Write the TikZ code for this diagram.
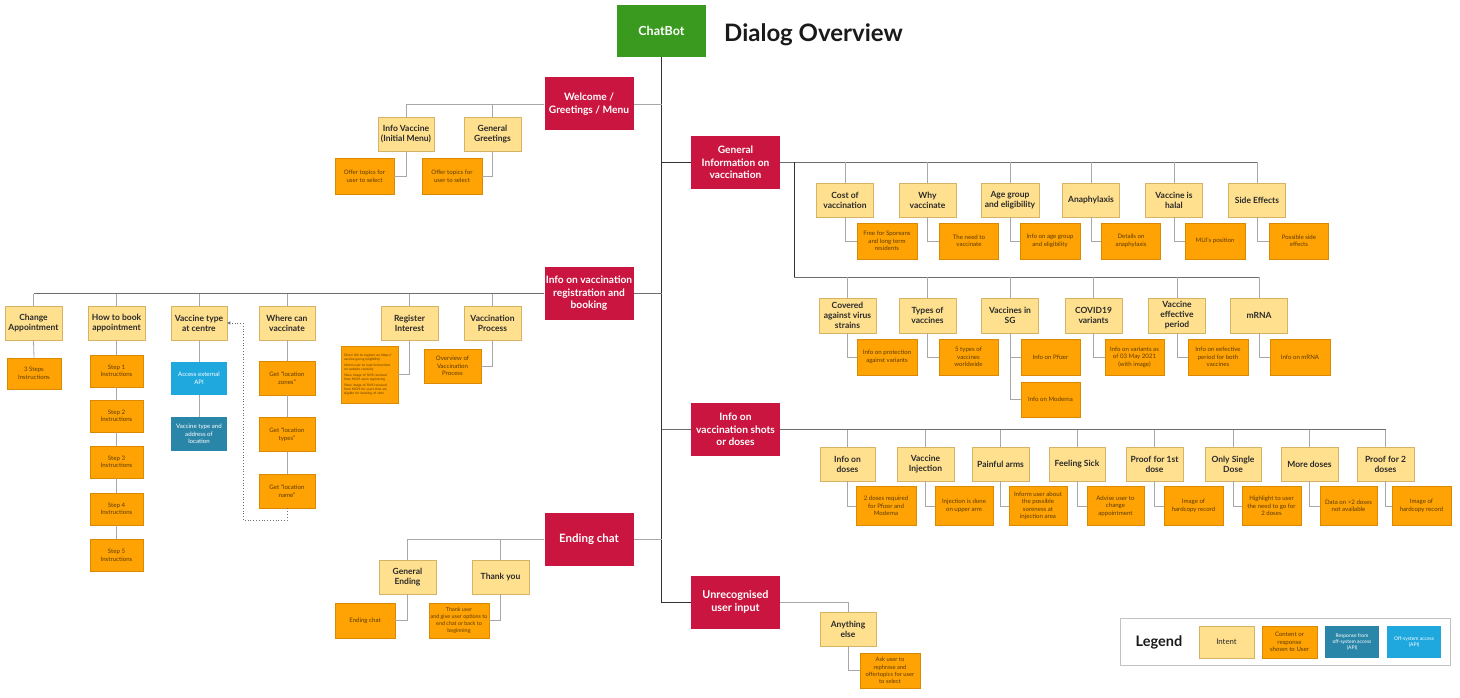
\documentclass[tikz,border=0pt]{standalone}
\usepackage{fontspec}
\setmainfont{Lato}
\usetikzlibrary{arrows.meta}
\definecolor{cbgreen}{HTML}{3A9A1F}
\definecolor{crim}{HTML}{C9153F}
\definecolor{intentf}{HTML}{FFE08F}
\definecolor{intentd}{HTML}{D6B265}
\definecolor{intenttxt}{HTML}{2A2A2A}
\definecolor{respf}{HTML}{FFA304}
\definecolor{respd}{HTML}{D98A00}
\definecolor{resptxt}{HTML}{5C3A00}
\definecolor{apif}{HTML}{1EA8DE}
\definecolor{apirf}{HTML}{2A86A8}
\definecolor{trunkc}{HTML}{333333}
\definecolor{busc}{HTML}{6E6E6E}
\definecolor{linkc}{HTML}{A8A8A8}
\definecolor{titlec}{HTML}{1A1A1A}
\tikzset{
  topic/.style={fill=crim, text=white, font=\fontsize{10.2}{12.4}\selectfont\bfseries, align=center, minimum width=89pt, minimum height=53pt, inner sep=0pt},
  intent/.style={fill=intentf, draw=intentd, line width=0.6pt, text=intenttxt, font=\fontsize{8.5}{10}\selectfont\bfseries, align=center, minimum width=57pt, minimum height=34pt, inner sep=0pt},
  resp/.style={fill=respf, draw=respd, line width=0.6pt, text=resptxt, font=\fontsize{6.1}{7.5}\selectfont, align=center, minimum width=59pt, minimum height=36pt, inner sep=0pt},
  apibox/.style={fill=apif, text=white, font=\fontsize{6.1}{7.5}\selectfont, align=center, minimum width=56pt, minimum height=33pt, inner sep=0pt},
  apiresp/.style={fill=apirf, text=white, font=\fontsize{6.1}{7.5}\selectfont, align=center, minimum width=56pt, minimum height=34pt, inner sep=0pt},
  trunk/.style={draw=trunkc, line width=1pt},
  bus/.style={draw=busc, line width=0.9pt},
  link/.style={draw=linkc, line width=0.8pt},
}
\begin{document}
\begin{tikzpicture}[x=1pt,y=-1pt]
\fill[white] (0,0) rectangle (1460,698);
\useasboundingbox (0,0) rectangle (1460,698);

% ---------- header ----------
\node[fill=cbgreen, minimum width=89pt, minimum height=52pt, inner sep=0pt, text=white, font=\fontsize{12.5}{14}\selectfont\bfseries] (chatbot) at (661.5,31) {ChatBot};
\node[anchor=base west, font=\fontsize{24}{28}\selectfont\bfseries, text=titlec, inner sep=0pt] (title) at (724,42) {Dialog Overview};

% ---------- topics ----------
\node[topic] (welcome) at (589,104) {Welcome /\\Greetings / Menu};
\node[topic] (geninfo) at (735.5,162.5) {General\\Information on\\vaccination};
\node[topic] (reg) at (589,293.5) {Info on vaccination\\registration and\\booking};
\node[topic] (shots) at (735.5,429.5) {Info on\\vaccination shots\\or doses};
\node[topic, font=\fontsize{11.5}{13}\selectfont\bfseries] (ending) at (589,539) {Ending chat};
\node[topic, font=\fontsize{10.8}{13}\selectfont\bfseries] (unrec) at (735.5,602) {Unrecognised\\user input};

% ---------- welcome ----------
\node[intent, minimum width=56pt] (ivac) at (406,134) {Info Vaccine\\(Initial Menu)};
\node[intent] (ggreet) at (492.5,134) {General\\Greetings};
\node[resp] (offer1) at (364.5,176.5) {Offer topics for\\user to select};
\node[resp, minimum width=60pt] (offer2) at (452,176.5) {Offer topics for\\user to select};

% ---------- general info row 1 ----------
\node[intent] (cost) at (845,200) {Cost of\\vaccination};
\node[intent] (why) at (927.5,200) {Why\\vaccinate};
\node[intent, minimum width=58pt] (age) at (1010,200) {Age group\\and eligibility};
\node[intent] (anaph) at (1091,200) {Anaphylaxis};
\node[intent] (halal) at (1174,200) {Vaccine is\\halal};
\node[intent] (side) at (1257,200) {Side Effects};
\node[resp, minimum width=60pt] (free) at (887,241) {Free for Sporeans\\and long term\\residents};
\node[resp] (need) at (969,241) {The need to\\vaccinate};
\node[resp, minimum width=60pt] (ageinfo) at (1050,241) {Info on age group\\and eligibility};
\node[resp] (details) at (1131,241) {Details on\\anaphylaxis};
\node[resp, minimum width=60pt] (mui) at (1215,241) {MUI's position};
\node[resp] (possible) at (1299,241) {Possible side\\effects};

% ---------- general info row 2 ----------
\node[intent, minimum height=35pt] (covered) at (847.5,315.5) {Covered\\against virus\\strains};
\node[intent, minimum height=35pt] (types) at (927.5,315.5) {Types of\\vaccines};
\node[intent, minimum height=35pt] (vsg) at (1010,315.5) {Vaccines in\\SG};
\node[intent, minimum height=35pt] (covid) at (1093.5,315.5) {COVID19\\variants};
\node[intent, minimum height=35pt] (veff) at (1177,315.5) {Vaccine\\effective\\period};
\node[intent, minimum height=35pt] (mrna) at (1259,315.5) {mRNA};
\node[resp, minimum width=60pt] (prot) at (887,357) {Info on protection\\against variants};
\node[resp] (types5) at (968.5,357) {5 types of\\vaccines\\worldwide};
\node[resp] (pfizer) at (1050.5,357) {Info on Pfizer};
\node[resp, minimum height=35pt] (moderna) at (1050.5,399.5) {Info on Moderna};
\node[resp] (variants) at (1134.5,357) {Info on variants as\\of 03 May 2021\\(with image)};
\node[resp, minimum width=60pt] (effp) at (1218,357) {Info on eefective\\period for both\\vaccines};
\node[resp, minimum width=60pt] (mrnainfo) at (1300,357) {Info on mRNA};

% ---------- registration ----------
\node[intent] (change) at (33.5,323) {Change\\Appointment};
\node[resp, minimum width=54pt, minimum height=31pt] (steps) at (34,373.5) {3 Steps\\Instructions};
\node[intent] (howbook) at (116.5,323) {How to book\\appointment};
\node[resp, minimum width=53pt, minimum height=32pt] (s1) at (116.5,371) {Step 1\\Instructions};
\node[resp, minimum width=53pt, minimum height=32pt] (s2) at (116.5,416) {Step 2\\Instructions};
\node[resp, minimum width=53pt, minimum height=32pt] (s3) at (116.5,462) {Step 3\\Instructions};
\node[resp, minimum width=53pt, minimum height=32pt] (s4) at (116.5,509) {Step 4\\Instructions};
\node[resp, minimum width=53pt, minimum height=32pt] (s5) at (116.5,555.5) {Step 5\\Instructions};
\node[intent, minimum width=56pt] (vtype) at (199,323) {Vaccine type\\at centre};
\node[apibox] (api) at (199,378.5) {Access external\\API};
\node[apiresp] (vaddr) at (199,434) {Vaccine type and\\address of\\location};
\node[intent, minimum width=56pt] (where) at (287,323) {Where can\\vaccinate};
\node[resp, minimum width=56pt, minimum height=34pt] (gz) at (287,378) {Get “location\\zones”};
\node[resp, minimum width=56pt, minimum height=34pt] (gt) at (287,434.5) {Get “location\\types”};
\node[resp, minimum width=56pt, minimum height=34pt] (gn) at (287,491) {Get “location\\name”};
\node[intent] (regint) at (409.5,323) {Register\\Interest};
\node[resp, minimum width=57pt, minimum height=57pt, align=left, font=\fontsize{3.3}{4.1}\selectfont, text width=51pt] (regresp) at (369.5,374.5) {Direct link to register on https://\\vaccine.gov.sg (eligibility)\\[1.6pt]Inform user to read instructions\\on website carefully\\[1.6pt]Show image of SMS received\\from MOH upon registering\\[1.6pt]Show image of SMS received\\from MOH for users that are\\eligible for booking of slots};
\node[intent] (vproc) at (492.5,323) {Vaccination\\Process};
\node[resp, minimum width=57pt, minimum height=34pt] (overview) at (452.5,366) {Overview of\\Vaccination\\Process};

% ---------- shots ----------
\node[intent, minimum width=55pt] (doses) at (847.5,464) {Info on\\doses};
\node[intent] (inj) at (925.5,464) {Vaccine\\Injection};
\node[intent] (painful) at (1000.5,464) {Painful arms};
\node[intent, minimum width=56pt] (sick) at (1077,464) {Feeling Sick};
\node[intent] (proof1) at (1154.5,464) {Proof for 1st\\dose};
\node[intent, minimum width=56pt] (single) at (1233,464) {Only Single\\Dose};
\node[intent] (more) at (1309.5,464) {More doses};
\node[intent] (proof2) at (1385.5,464) {Proof for 2\\doses};
\node[resp, minimum height=39pt, minimum width=60pt] (d2) at (886,506) {2 doses required\\for Pfizer and\\Moderna};
\node[resp, minimum height=39pt, minimum width=58pt] (injr) at (964,506) {Injection is done\\on upper arm};
\node[resp, minimum height=39pt, minimum width=58pt] (inform) at (1038,506) {Inform user about\\the possible\\soreness at\\injection area};
\node[resp, minimum height=39pt, minimum width=57pt] (advise) at (1115.5,506) {Advise user to\\change\\appointment};
\node[resp, minimum height=39pt] (img1) at (1193.5,506) {Image of\\hardcopy record};
\node[resp, minimum height=39pt] (highlight) at (1271.5,506) {Highlight to user\\the need to go for\\2 doses};
\node[resp, minimum height=39pt, minimum width=57pt] (data) at (1348.5,506) {Data on >2 doses\\not available};
\node[resp, minimum height=39pt] (img2) at (1421.5,506) {Image of\\hardcopy record};

% ---------- ending ----------
\node[intent] (gend) at (407.5,577) {General\\Ending};
\node[intent] (thanks) at (500.5,577) {Thank you};
\node[resp, minimum width=60pt, minimum height=35pt] (endresp) at (365,620.5) {Ending chat};
\node[resp, minimum width=60pt, minimum height=35pt, font=\fontsize{5.4}{6.7}\selectfont] (thankresp) at (459,620.5) {Thank user\\and give user options to\\end chat or back to\\beginning};

% ---------- unrecognised ----------
\node[intent, minimum width=56pt] (anything) at (848,629) {Anything\\else};
\node[resp, minimum width=60pt, minimum height=35pt, font=\fontsize{5.8}{7.1}\selectfont] (ask) at (890,670.5) {Ask user to\\rephrase and\\offertopics for user\\to select};

% ---------- legend ----------
\node[draw=linkc!70, line width=0.8pt, minimum width=330pt, minimum height=47pt, inner sep=0pt] (legend) at (1285,641.5) {};
\node[font=\fontsize{14.5}{16}\selectfont\bfseries, text=titlec] (legtitle) at (1159,642) {Legend};
\node[intent, minimum width=55pt, minimum height=32pt, font=\fontsize{7.8}{9}\selectfont] (legint) at (1226.5,642) {Intent};
\node[resp, minimum width=55pt, minimum height=32pt] (legresp) at (1289.5,642) {Content or\\response\\shown to User};
\node[apiresp, minimum width=54pt, minimum height=32pt, font=\fontsize{5}{6.2}\selectfont] (legapir) at (1352,642) {Response from\\off-system access\\(API)};
\node[apibox, minimum width=54pt, minimum height=32pt, font=\fontsize{5}{6.2}\selectfont] (legapi) at (1414,642) {Off-system access\\(API)};

% ================= connectors =================
\draw[trunk] (chatbot.south) |- (unrec.west);
\draw[link] (chatbot.south |- welcome.east) -- (welcome.east);
\draw[trunk] (chatbot.south |- geninfo.west) -- (geninfo.west);
\draw[bus] (chatbot.south |- reg.east) -- (reg.east);
\draw[bus] (chatbot.south |- shots.west) -- (shots.west);
\draw[link] (chatbot.south |- ending.east) -- (ending.east);

% welcome
\draw[link] (welcome.west) -| (ivac.north);
\draw[link] (welcome.west) -| (ggreet.north);
\draw[link] (ivac.south) |- (offer1.east);
\draw[link] (ggreet.south) |- (offer2.east);

% general info row 1
\draw[bus] (geninfo.east) -- (geninfo.east -| side.north);
\foreach \n in {cost,why,age,anaph,halal,side}
  \draw[link] (\n.north) -- (\n.north |- geninfo.east);
\draw[link] (cost.south) |- (free.west);
\draw[link] (why.south) |- (need.west);
\draw[link] (age.south) |- (ageinfo.west);
\draw[link] (anaph.south) |- (details.west);
\draw[link] (halal.south) |- (mui.west);
\draw[link] (side.south) |- (possible.west);

% general info row 2
\coordinate (g2b) at (794,277);
\draw[trunk] (geninfo.east -| g2b) -- (g2b);
\draw[bus] (g2b) -- (g2b -| mrna.north);
\foreach \n in {covered,types,vsg,covid,veff,mrna}
  \draw[link] (\n.north) -- (\n.north |- g2b);
\draw[link] (covered.south) |- (prot.west);
\draw[link] (types.south) |- (types5.west);
\draw[link] (vsg.south) |- (pfizer.west);
\draw[link] (vsg.south) |- (moderna.west);
\draw[link] (covid.south) |- (variants.west);
\draw[link] (veff.south) |- (effp.west);
\draw[link] (mrna.south) |- (mrnainfo.west);

% registration
\draw[bus] (reg.west) -- (reg.west -| change.north);
\foreach \n in {change,howbook,vtype,where,regint,vproc}
  \draw[link] (\n.north) -- (\n.north |- reg.west);
\draw[link] (change.south) -- (steps.north);
\draw[link] (howbook.south) -- (s1.north);
\draw[link] (s1.south) -- (s2.north);
\draw[link] (s2.south) -- (s3.north);
\draw[link] (s3.south) -- (s4.north);
\draw[link] (s4.south) -- (s5.north);
\draw[link] (vtype.south) -- (api.north);
\draw[link] (api.south) -- (vaddr.north);
\draw[link] (where.south) -- (gz.north);
\draw[link] (gz.south) -- (gt.north);
\draw[link] (gt.south) -- (gn.north);
\coordinate (dA) at (243,520);
\draw[draw=busc, line width=0.8pt, dotted, -{Triangle[length=3pt,width=3pt]}] (gn.south) |- (dA) |- (vtype.east);
\draw[link] (regint.south) |- (regresp.east);
\draw[link] (vproc.south) |- (overview.east);

% shots
\draw[bus] (shots.east) -- (shots.east -| proof2.north);
\foreach \n in {doses,inj,painful,sick,proof1,single,more,proof2}
  \draw[link] (\n.north) -- (\n.north |- shots.east);
\draw[link] (doses.south) |- (d2.west);
\draw[link] (inj.south) |- (injr.west);
\draw[link] (painful.south) |- (inform.west);
\draw[link] (sick.south) |- (advise.west);
\draw[link] (proof1.south) |- (img1.west);
\draw[link] (single.south) |- (highlight.west);
\draw[link] (more.south) |- (data.west);
\draw[link] (proof2.south) |- (img2.west);

% ending
\draw[link] (ending.west) -| (gend.north);
\draw[link] (ending.west) -| (thanks.north);
\draw[link] (gend.south) |- (endresp.east);
\draw[link] (thanks.south) |- (thankresp.east);

% unrecognised
\draw[link] (unrec.east) -| (anything.north);
\draw[link] (anything.south) |- (ask.west);
\end{tikzpicture}
\end{document}
